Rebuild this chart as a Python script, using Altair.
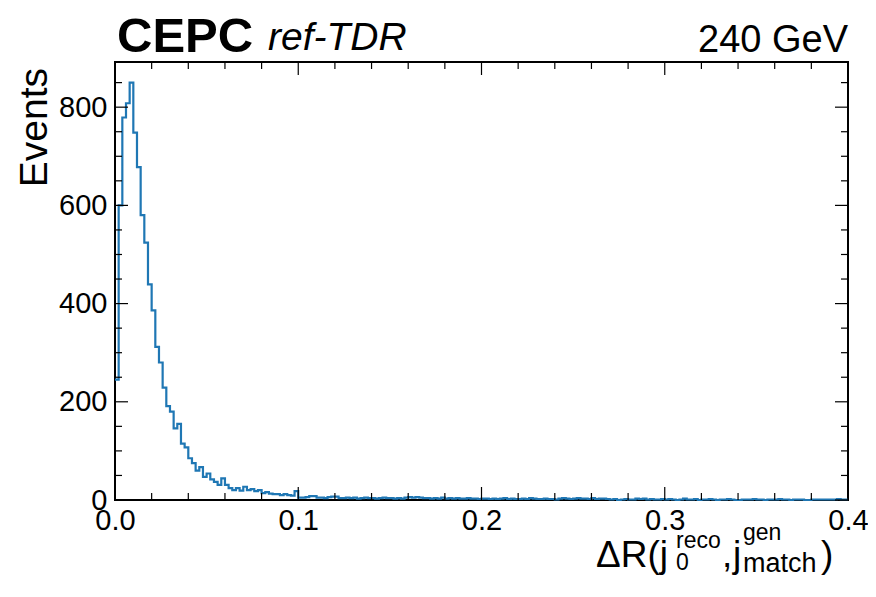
import altair as alt
import pandas as pd

# ---- data ----
bin_width = 0.002
counts = [
    245, 600, 779, 808, 850, 748, 678, 580, 524, 439,
    386, 312, 280, 229, 191, 180, 146, 155, 115, 107,
    85, 75, 60, 67, 47, 54, 42, 37, 31, 44,
    31, 24, 20, 24, 19, 27, 20,
    22, 18, 20, 14, 16, 13, 12, 12, 10, 12, 10, 9, 18,
    5, 5, 6, 8, 8, 5, 5, 4, 6, 7, 7, 4, 4, 5, 4, 5, 3, 4, 5, 4,
    4, 3, 4, 5, 4, 4, 3, 4, 3, 5, 6, 5, 6, 5, 4, 4, 3, 4, 3, 5,
    3, 4, 3, 4, 3, 3, 4, 3, 3, 2,
    3, 3, 2, 3, 2, 3, 4, 2, 3, 2, 2, 3, 2, 4, 3, 2, 2, 3, 2, 2,
    1, 3, 4, 3, 2, 3, 4, 3, 3, 2, 4, 2, 3, 3, 2, 1, 2, 0, 1, 2,
    1, 1, 3, 2, 3, 1, 2, 1, 1, 2,
    1, 2, 1, 0, 1, 3, 1, 1, 2, 0, 1, 1, 2, 1, 0, 1, 1, 2, 1, 0,
    0, 1, 1, 1, 2, 1, 1, 0, 1, 1, 1, 2, 1, 1, 0, 1, 1, 1, 0, 0,
    1, 1, 1, 1, 1, 1, 1, 2, 1, 1,
]
x_range = [0.0, 0.4]
y_range = [0, 892]
x_major = [0.0, 0.1, 0.2, 0.3, 0.4]
x_minor = [0.02, 0.04, 0.06, 0.08, 0.12, 0.14, 0.16, 0.18, 0.22, 0.24, 0.26, 0.28,
           0.32, 0.34, 0.36, 0.38]
y_major = [0, 200, 400, 600, 800]
y_minor = [50, 100, 150, 250, 300, 350, 450, 500, 550, 650, 700, 750, 850]

edges = [i * bin_width for i in range(len(counts))] + [x_range[1]]
hist = pd.DataFrame({"x": edges, "y": counts + [counts[-1]]})

W, H = 733, 438
FONT = "Liberation Sans"
xs = alt.Scale(domain=x_range, nice=False, zero=False)
ys = alt.Scale(domain=y_range, nice=False)

line = alt.Chart(hist).mark_line(
    interpolate="step-after", color="#1f77b4", strokeWidth=2.2
).encode(
    x=alt.X("x:Q", scale=xs, axis=alt.Axis(
        values=x_major, format=".1f", ticks=False, domain=False, grid=False,
        labelFont=FONT, labelFontSize=29, labelColor="black", labelPadding=6,
        title=None, labelFlush=False)),
    y=alt.Y("y:Q", scale=ys, axis=alt.Axis(
        values=y_major, format="d", ticks=False, domain=False, grid=False,
        labelFont=FONT, labelFontSize=29, labelColor="black", labelPadding=8,
        title=None)),
)

def xticks(vals, length):
    d = pd.DataFrame({"t": vals})
    b = alt.Chart(d).mark_rule(color="black", strokeWidth=1.2)
    bottom = b.encode(x=alt.X("t:Q", scale=xs), y=alt.value(H), y2=alt.value(H - length))
    top = b.encode(x=alt.X("t:Q", scale=xs), y=alt.value(0), y2=alt.value(length))
    return [bottom, top]

def yticks(vals, length):
    d = pd.DataFrame({"t": vals})
    b = alt.Chart(d).mark_rule(color="black", strokeWidth=1.2)
    left = b.encode(y=alt.Y("t:Q", scale=ys), x=alt.value(0), x2=alt.value(length))
    right = b.encode(y=alt.Y("t:Q", scale=ys), x=alt.value(W - length), x2=alt.value(W))
    return [left, right]

tick_layers = xticks(x_major, 13) + xticks(x_minor, 7) + yticks(y_major, 13) + yticks(y_minor, 7)

one = pd.DataFrame({"a": [0]})

def txt(text, x, y, size, align="left", weight="normal", style="normal", angle=0):
    kw = dict(text=text, font=FONT, fontSize=size, align=align, baseline="alphabetic",
              fontWeight=weight, fontStyle=style, color="black")
    if angle:
        kw["angle"] = angle
    return alt.Chart(one).mark_text(**kw).encode(x=alt.value(x), y=alt.value(y))

texts = [
    txt("CEPC", 2, -10, 49, weight="bold"),
    txt("ref-TDR", 153, -12, 39, style="italic"),
    txt("240 GeV", W, -10, 38, align="right"),
    txt("Events", -68, 6, 39, align="right", angle=270),
    txt("ΔR(j", 481, 505, 37),
    txt("reco", 561, 486, 23),
    txt("0", 561, 508, 23),
    txt(",", 607, 505, 37),
    txt("j", 618, 505, 37),
    txt("gen", 628, 478, 23),
    txt("match", 628, 510, 27),
    txt(")", 706, 505, 37),
]

chart = alt.layer(line, *tick_layers, *texts).properties(
    width=W, height=H,
    autosize=alt.AutoSizeParams(type="none"),
    padding={"left": 107, "top": 54, "right": 20, "bottom": 85},
).configure_view(stroke="black", strokeWidth=2)

chart.save("out.html", embed_options={"renderer": "svg", "actions": False})
